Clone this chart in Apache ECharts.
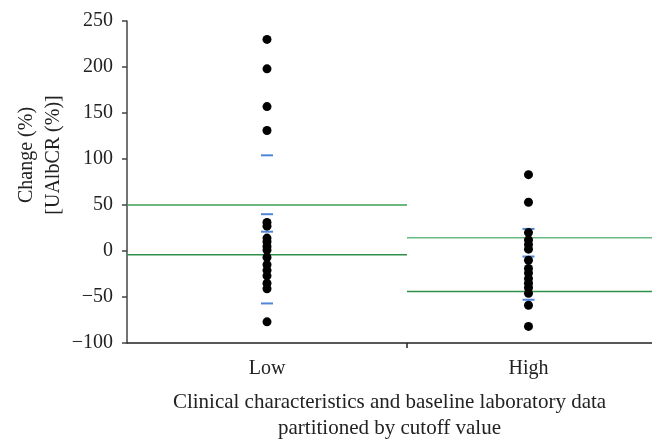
<!DOCTYPE html>
<html><head><meta charset="utf-8">
<script src="https://cdn.jsdelivr.net/npm/echarts@6/dist/echarts.min.js"></script>
<style>html,body{margin:0;padding:0;background:#fff}#c{width:652px;height:440px}</style>
</head><body><div id="c"></div>
<script>
// ---- data ----
const categories = ['Low', 'High'];
const lowValues = [230, 198, 157, 131, 31, 27, 14, 10, 5, 1, -7, -15, -21, -27, -35, -41, -77];
const highValues = [83, 53, 20, 12, 7, 2, -10, -19, -24, -30, -35, -40, -46, -59, -82];
const lowCaps = [104, 40, 21, -57];
const highCaps = [24, -6, -53];
const lowLines = [50, -4];
const highLines = [14.5, -44];
const yMin = -100, yMax = 250, yStep = 50;

// ---- layout of the x scale (category 1 = Low, 2 = High) ----
const X_MIN = 0.4646, X_SPLIT = 1.5354, X_MAX = 2.4723;
const FONT = '"Liberation Serif", "DejaVu Serif", serif';

const chart = echarts.init(document.getElementById('c'), null, {renderer: 'canvas'});

function segs(vals, x0, x1, colors) {
  return vals.map((v, i) => ({
    type: 'line', data: [[x0, v], [x1, v]], symbol: 'none', silent: true,
    lineStyle: {color: colors[i], width: 1.5}, z: 1, animation: false
  }));
}

const series = [
  ...segs(lowLines, X_MIN, X_SPLIT, ['#3f9f58', '#2f9148']),
  ...segs(highLines, X_SPLIT, X_MAX, ['#66bb80', '#2f9148']),
  {type: 'scatter', data: lowCaps.map(v => [1, v]), symbol: 'rect', symbolSize: [12, 2],
   itemStyle: {color: '#4f86d6', opacity: 1}, z: 2, animation: false},
  {type: 'scatter', data: highCaps.map(v => [2, v]), symbol: 'rect', symbolSize: [12, 2],
   itemStyle: {color: '#4f86d6', opacity: 1}, z: 2, animation: false},
  {type: 'scatter', data: lowValues.map(v => [1, v]), symbolSize: 9,
   itemStyle: {color: '#000', opacity: 1}, z: 3, animation: false},
  {type: 'scatter', data: highValues.map(v => [2, v]), symbolSize: 9,
   itemStyle: {color: '#000', opacity: 1}, z: 3, animation: false}
];

chart.setOption({
  backgroundColor: '#fff',
  animation: false,
  grid: {left: 127, right: 0, top: 21, bottom: 97, containLabel: false, outerBoundsMode: 'none'},
  xAxis: {
    type: 'value', min: X_MIN, max: X_MAX,
    axisLine: {show: true, onZero: false, lineStyle: {color: '#222', width: 1.5}},
    axisTick: {show: true, customValues: [X_SPLIT], length: 5, lineStyle: {color: '#222', width: 1.5}},
    axisLabel: {customValues: [1, 2], formatter: v => categories[Math.round(v) - 1],
      fontFamily: FONT, fontSize: 20, color: '#222', margin: 16},
    splitLine: {show: false},
    name: 'Clinical characteristics and baseline laboratory data\npartitioned by cutoff value',
    nameLocation: 'middle', nameGap: 46, nameMoveOverlap: false,
    nameTextStyle: {fontFamily: FONT, fontSize: 21, color: '#222', lineHeight: 26, verticalAlign: 'top'}
  },
  yAxis: {
    type: 'value', min: yMin, max: yMax, interval: yStep,
    axisLine: {show: true, lineStyle: {color: '#444', width: 1.5}},
    axisTick: {show: true, length: 5, lineStyle: {color: '#444', width: 1.5}},
    axisLabel: {fontFamily: FONT, fontSize: 20, color: '#222', margin: 14,
      formatter: v => (v < 0 ? '\u2212' + Math.abs(v) : String(v))},
    splitLine: {show: false},
    name: 'Change (%)\n[UAlbCR (%)]',
    nameLocation: 'middle', nameGap: 60, nameRotate: 90, nameMoveOverlap: false,
    nameTextStyle: {fontFamily: FONT, fontSize: 20, color: '#222', lineHeight: 27, padding: [0, 0, 0, 54]}
  },
  series: series
});
</script></body></html>
